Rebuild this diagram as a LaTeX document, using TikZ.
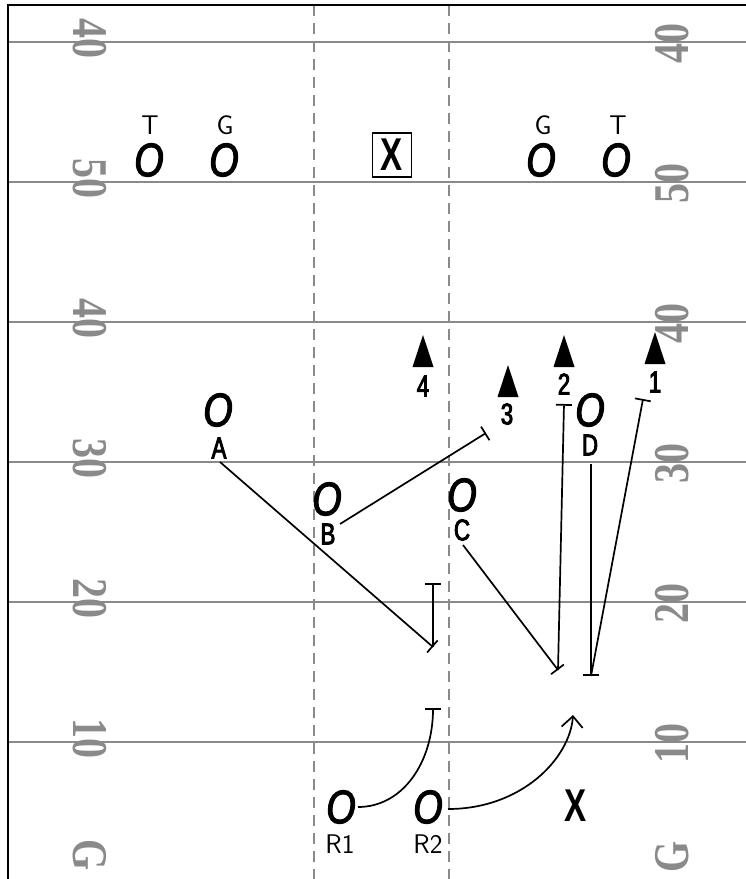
\documentclass[tikz,border=0pt]{standalone}
\usepackage{fontspec}
\usetikzlibrary{arrows.meta}
\newfontfamily\yardfont[FakeStretch=0.8]{Liberation Serif}
\newfontfamily\ofont[FakeStretch=0.8,FakeBold=2.5]{Liberation Sans}
\newfontfamily\lblfont[FakeStretch=0.74,FakeBold=3]{Liberation Sans}
\newfontfamily\xfont[FakeStretch=0.72]{Liberation Sans}
\definecolor{fieldgray}{HTML}{8A8A8A}
\begin{document}
\begin{tikzpicture}[x=1pt,y=-1pt,
  yardline/.style={draw=fieldgray, line width=1.5pt},
  hashline/.style={draw=fieldgray, line width=1.5pt, dash pattern=on 11pt off 7pt},
  border/.style={draw=black, line width=2.5pt},
  numL/.style={text=fieldgray, font=\yardfont\bfseries\fontsize{50}{50}\selectfont, rotate=-90, inner sep=0pt},
  numR/.style={text=fieldgray, font=\yardfont\bfseries\fontsize{50}{50}\selectfont, rotate=90, inner sep=0pt},
  player/.style={font=\ofont\itshape\fontsize{47}{47}\selectfont, inner sep=0pt},
  posname/.style={font=\sffamily\fontsize{27}{27}\selectfont, inner sep=0pt},
  lbl/.style={font=\lblfont\fontsize{30}{30}\selectfont, inner sep=0pt},
  xbox/.style={draw, line width=1.5pt, font=\xfont\bfseries\fontsize{46}{46}\selectfont, inner xsep=8.5pt, inner ysep=6pt},
  xplain/.style={font=\xfont\bfseries\fontsize{46}{46}\selectfont, inner sep=0pt},
  route/.style={draw, line width=1.7pt},
  barend/.style={-{Bar[width=16pt]}},
  openend/.style={-{Straight Barb[length=11pt,width=21pt]}},
]
\useasboundingbox (0,0) rectangle (746,879);

% yard lines
\foreach \yy in {42,182,322,462,602,742} {
  \draw[yardline] (8,\yy) -- (746,\yy);
}
% hash lines
\draw[hashline] (314,5) -- (314,879);
\draw[hashline] (449,5) -- (449,879);
% border
\draw[border] (8,879) -- (8,5) -- (746,5);

% yard numbers left
\node[numL] (nl1) at (90,38) {40};
\node[numL] (nl2) at (90,178) {50};
\node[numL] (nl3) at (90,318) {40};
\node[numL] (nl4) at (90,458) {30};
\node[numL] (nl5) at (90,598) {20};
\node[numL] (nl6) at (90,738) {10};
\node[numL] (nl7) at (90,855) {G};
% yard numbers right
\node[numR] (nr1) at (672,43) {40};
\node[numR] (nr2) at (672,183) {50};
\node[numR] (nr3) at (672,323) {40};
\node[numR] (nr4) at (672,463) {30};
\node[numR] (nr5) at (672,603) {20};
\node[numR] (nr6) at (672,743) {10};
\node[numR] (nr7) at (672,857) {G};

% defensive front
\node[player] (pT1) at (149,160) {O};
\node[posname] (lT1) at (150,125) {T};
\node[player] (pG1) at (224,160) {O};
\node[posname] (lG1) at (225,125) {G};
\node[player] (pG2) at (541,160) {O};
\node[posname] (lG2) at (543,125) {G};
\node[player] (pT2) at (616,160) {O};
\node[posname] (lT2) at (618,125) {T};
\node[xbox] (qb) at (392,155) {X};

% triangles and numbers
\coordinate (t4) at (423,351);
\coordinate (t3) at (508,381);
\coordinate (t2) at (564,351);
\coordinate (t1) at (655,348);
\foreach \t in {t4,t3,t2,t1} {
  \fill (\t) ++(0,-16) -- ++(-10.5,32) -- ++(21,0) -- cycle;
}
\node[lbl] (n4) at (423,386) {4};
\node[lbl] (n3) at (507,414) {3};
\node[lbl] (n2) at (564,384) {2};
\node[lbl] (n1) at (655,382) {1};

% players
\node[player] (pA) at (218,410) {O};
\node[lbl] (lA) at (219,448) {A};
\node[player] (pB) at (327,499) {O};
\node[lbl] (lB) at (328,534) {B};
\node[player] (pC) at (462,495) {O};
\node[lbl] (lC) at (462,530) {C};
\node[player] (pD) at (590,410) {O};
\node[lbl] (lD) at (590,445) {D};
\node[player] (pR1) at (341,807) {O};
\node[posname] (lR1) at (340,844) {R1};
\node[player] (pR2) at (428,807) {O};
\node[posname] (lR2) at (428,844) {R2};
\node[xplain] (def) at (576,806) {X};

% route points
\coordinate (a1) at (220,462);
\coordinate (a2) at (433,647);
\coordinate (a3) at (433,583);
\coordinate (b1) at (340,524);
\coordinate (b2) at (486,433);
\coordinate (c1) at (463,545);
\coordinate (c2) at (558,670);
\coordinate (c3) at (564,404);
\coordinate (d1) at (591,464);
\coordinate (d2) at (591,676);
\coordinate (d3) at (643,399);
\coordinate (r1a) at (358,807);
\coordinate (r1b) at (433,708);
\coordinate (r2a) at (448,809);
\coordinate (r2b) at (573,715);

% routes
\draw[route, barend] (a1) -- (a2);
\draw[route, barend] (a2) -- (a3);
\draw[route, barend] (b1) -- (b2);
\draw[route, barend] (c1) -- (c2);
\draw[route, barend] (c2) -- (c3);
\draw[route, barend] (d1) -- (d2);
\draw[route, barend] (d2) -- (d3);
\draw[route, barend] (r1a) .. controls (403,807) and (433,762) .. (r1b);
\draw[route, openend] (r2a) .. controls (522,809) and (570,758) .. (r2b);
\end{tikzpicture}
\end{document}
